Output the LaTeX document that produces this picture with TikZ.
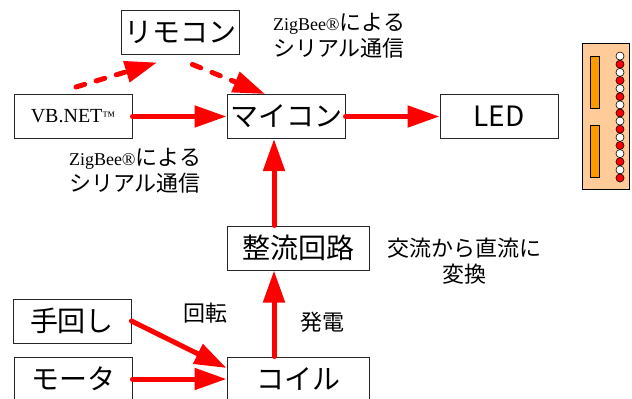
\documentclass[tikz,border=0pt]{standalone}
\usepackage{fontspec}
\setmainfont{Liberation Serif}
\newfontfamily\jp{Noto Sans CJK JP}
\usetikzlibrary{arrows.meta}

\definecolor{boardbg}{HTML}{FFCC99}
\definecolor{boardbar}{HTML}{FF9900}

\tikzset{
  box/.style={draw=black!85, line width=1pt, minimum width=118pt, minimum height=44pt,
    inner sep=0pt, font=\jp\fontsize{28}{30}\selectfont},
  widebox/.style={box, minimum width=142pt},
  lbl/.style={align=center, font=\jp\fontsize{22}{26}\selectfont},
  arr/.style={red, line width=5pt, line cap=round, -{Triangle[length=32pt,width=21pt]}},
  dasharr/.style={arr, dash pattern=on 9pt off 12pt},
}

\begin{document}
\begin{tikzpicture}[x=1pt,y=-1pt]
  \useasboundingbox (0,0) rectangle (632,399);
  \clip (0,0) rectangle (632,399);

  % blocks
  \node[box] (remo) at (180.5,32) {リモコン};
  \node[box, font=\fontsize{20}{22}\selectfont] (vb) at (73,116.5)
    {VB.NET\raisebox{2pt}{\fontsize{13}{13}\selectfont ™}};
  \node[box] (micon) at (286,116.5) {マイコン};
  \node[box] (led) at (499,116.5) {LED};
  \node[widebox] (rect) at (298,248) {整流回路};
  \node[box] (hand) at (72,321) {手回し};
  \node[box] (motor) at (73,379) {モータ};
  \node[widebox] (coil) at (298,379) {コイル};

  % labels
  \node[lbl] (zbtop) at (339,36) {{\rmfamily\fontsize{18}{26}\selectfont ZigBee®}による\\シリアル通信};
  \node[lbl] (zbleft) at (135,171) {{\rmfamily\fontsize{18}{26}\selectfont ZigBee®}による\\シリアル通信};
  \node[lbl] (rot) at (205,313) {回転};
  \node[lbl] (gen) at (322,322) {発電};
  \node[lbl] (acdc) at (464,261) {交流から直流に\\変換};

  % signal flow
  \draw[arr] (vb.east) -- (micon.west);
  \draw[arr] (micon.east) -- (led.west);
  \draw[arr] ([xshift=-24pt]coil.north) -- ([xshift=-24pt]rect.south);
  \draw[arr] ([xshift=-24pt]rect.north) -- ([xshift=-24pt]rect.north |- micon.south);
  \draw[arr] (hand.east) -- ([yshift=11pt]coil.west);
  \draw[arr] (motor.east) -- (coil.west);

  % wireless path via remote
  \draw[dasharr] ([shift={(3pt,7pt)}]vb.north) -- ([shift={(-23.5pt,-8pt)}]remo.south);
  \draw[dasharr] ([shift={(12pt,-10pt)}]remo.south) -- ([xshift=-21pt]micon.north);

  % LED board
  \draw[fill=boardbg, line width=0.8pt] (582,43) rectangle (629,189);
  \draw[fill=boardbar, line width=0.8pt] (590,56) rectangle (599,108);
  \draw[fill=boardbar, line width=0.8pt] (590,125) rectangle (599,177);
  \foreach \i in {0,...,15} {
    \ifodd\i \def\ledcol{red}\else\def\ledcol{white}\fi
    \draw[fill=\ledcol, line width=0.6pt] (620,56.1+\i*8.125) circle (4.06);
  }
\end{tikzpicture}
\end{document}
